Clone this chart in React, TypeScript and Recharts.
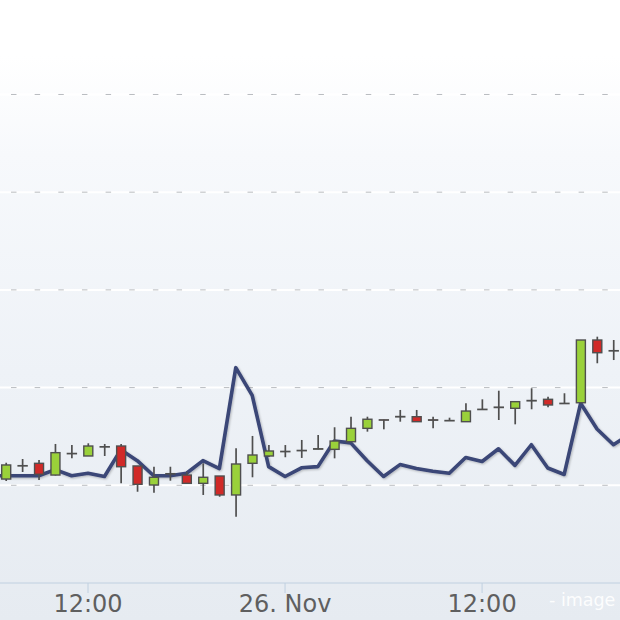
import React from "react";
import { ComposedChart, Bar, Line, XAxis, YAxis, ReferenceLine } from "recharts";

// hours since 25 Nov 07:00 (index -1 and 38 lie just outside the visible frame)
const hourOffsets = [-1, 0, 1, 2, 3, 4, 5, 6, 7, 8, 9, 10, 11, 12, 13, 14, 15, 16, 17, 18, 19, 20, 21, 22, 23, 24, 25, 26, 27, 28, 29, 30, 31, 32, 33, 34, 35, 36, 37, 38];

const opens = [null, 1.064, 1.198, 1.225, 1.105, 1.323, 1.300, 1.392, 1.402, 1.198, 1.003, 1.116, 1.105, 1.020, 1.095, 0.901, 1.225, 1.300, 1.344, 1.354, 1.370, 1.368, 1.446, 1.583, 1.670, 1.700, 1.702, 1.670, 1.663, 1.651, 1.776, 1.796, 1.788, 1.864, 1.880, 1.837, 1.845, 2.487, 2.378, null];
const highs = [null, 1.231, 1.269, 1.259, 1.423, 1.412, 1.430, 1.423, 1.423, 1.198, 1.190, 1.190, 1.139, 1.225, 1.095, 1.379, 1.505, 1.412, 1.412, 1.464, 1.515, 1.594, 1.702, 1.702, 1.672, 1.771, 1.771, 1.702, 1.692, 1.839, 1.880, 1.968, 1.856, 1.993, 1.907, 1.942, 2.487, 2.521, 2.487, null];
const lows = [null, 1.044, 1.136, 1.054, 1.100, 1.276, 1.300, 1.300, 1.020, 0.934, 0.924, 1.047, 1.020, 0.901, 0.883, 0.679, 1.082, 1.290, 1.287, 1.280, 1.368, 1.276, 1.446, 1.549, 1.573, 1.651, 1.651, 1.583, 1.659, 1.651, 1.774, 1.668, 1.624, 1.778, 1.798, 1.835, 1.845, 2.249, 2.282, null];
const closes = [null, 1.208, 1.201, 1.113, 1.334, 1.326, 1.402, 1.395, 1.190, 1.010, 1.082, 1.119, 1.020, 1.082, 0.901, 1.218, 1.310, 1.351, 1.347, 1.357, 1.374, 1.453, 1.583, 1.676, 1.668, 1.704, 1.651, 1.666, 1.661, 1.760, 1.778, 1.800, 1.856, 1.868, 1.822, 1.839, 2.487, 2.357, 2.375, null];
const lineValues = [1.098, 1.098, 1.098, 1.098, 1.160, 1.098, 1.123, 1.090, 1.365, 1.252, 1.098, 1.098, 1.123, 1.252, 1.171, 2.204, 1.920, 1.191, 1.090, 1.179, 1.191, 1.454, 1.434, 1.252, 1.090, 1.212, 1.171, 1.143, 1.123, 1.285, 1.244, 1.374, 1.204, 1.415, 1.177, 1.111, 1.839, 1.576, 1.415, 1.525];

const xTicks = [5, 17, 29];
const xTickLabels = ["12:00", "26. Nov", "12:00"];
const yGridTicks = [1, 2, 3, 4, 5];

const data = hourOffsets.map((t, i) => ({
  t,
  o: opens[i],
  h: highs[i],
  l: lows[i],
  c: closes[i],
  line: lineValues[i],
}));

const GREEN = "#9ad13a";
const RED = "#d02a28";
const EDGE = "#4f4f4f";

const Candle = (props: any) => {
  const { x, y, width, height, payload } = props;
  if (!payload || payload.o == null) return null;
  const { o, h, l, c } = payload;
  const top = Math.min(y, y + height);
  const span = Math.abs(height);
  const py = (v: number) => top + ((h - v) / (h - l)) * span;
  const cx = x + width / 2;
  const up = c >= o;
  const bt = py(Math.max(o, c));
  const bb = py(Math.min(o, c));
  return (
    <g>
      <line x1={cx} x2={cx} y1={py(h)} y2={py(l)} stroke={EDGE} strokeWidth={1.7} />
      <rect x={cx - 4.5} y={bt} width={9} height={Math.max(bb - bt, 0.3)} fill={up ? GREEN : RED} stroke={EDGE} strokeWidth={1.4} />
    </g>
  );
};

export default function App() {
  return (
    <div
      style={{
        position: "absolute",
        left: 0,
        top: 0,
        width: 620,
        height: 620,
        background: "linear-gradient(to bottom, #ffffff 0%, #ffffff 9%, #f7f9fc 25%, #eef2f7 60%, #e6ebf1 100%)",
        overflow: "hidden",
      }}
    >
      <svg width={0} height={0} style={{ position: "absolute" }}>
        <defs>
          <filter id="lineShadow" x="-10%" y="-10%" width="120%" height="130%">
            <feDropShadow dx="1" dy="1" stdDeviation="1.2" floodColor="#000000" floodOpacity="0.25" />
          </filter>
        </defs>
      </svg>
      <ComposedChart width={620} height={620} data={data} margin={{ top: 0, right: 0, bottom: 0, left: 0 }}>
        <XAxis
          dataKey="t"
          type="number"
          domain={[-0.36, 37.4]}
          allowDataOverflow
          ticks={xTicks}
          tickFormatter={(v: number) => xTickLabels[xTicks.indexOf(v)] ?? ""}
          height={37}
          interval={0}
          axisLine={{ stroke: "#c0d0e0", strokeWidth: 1 }}
          tickLine={{ stroke: "#c0d0e0", strokeWidth: 1 }}
          tickSize={10}
          tickMargin={2}
          tick={{ fill: "#5f5f5f", fontSize: 24, fontFamily: "DejaVu Sans" }}
        />
        <YAxis hide domain={[0, 5.967]} ticks={yGridTicks} allowDataOverflow width={0} />
        {yGridTicks.map((v) => (
          <ReferenceLine key={"w" + v} y={v} stroke="#ffffff" strokeWidth={2} zIndex={-100} />
        ))}
        {yGridTicks.map((v) => (
          <ReferenceLine
            key={"d" + v}
            y={v}
            stroke="#b9bcc0"
            strokeWidth={1}
            strokeDasharray="5.5 18.15"
            strokeDashoffset={12.65}
            zIndex={-90}
          />
        ))}
        <Line
          dataKey="line"
          type="linear"
          stroke="#3a4677"
          strokeWidth={3.6}
          dot={false}
          activeDot={false}
          isAnimationActive={false}
          filter="url(#lineShadow)"
          strokeLinejoin="round"
        />
        <Bar
          dataKey={(d: any) => (d.l == null ? null : [d.l, d.h])}
          barSize={9}
          shape={<Candle />}
          isAnimationActive={false}
          zIndex={450}
        />
      </ComposedChart>
      <div
        style={{
          position: "absolute",
          left: 549,
          top: 592,
          fontFamily: "DejaVu Sans",
          fontSize: 17.5,
          lineHeight: 1,
          color: "rgba(255,255,255,0.92)",
          whiteSpace: "nowrap",
        }}
      >
        - image
      </div>
    </div>
  );
}
